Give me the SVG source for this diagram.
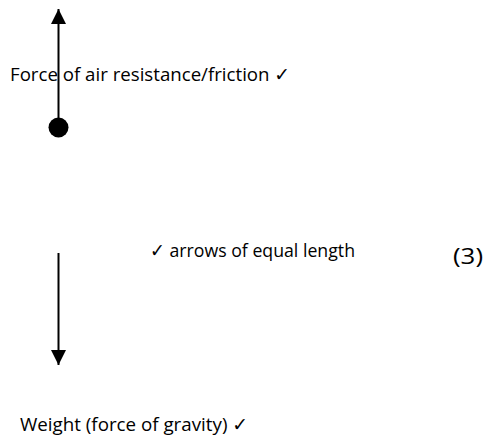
<svg xmlns="http://www.w3.org/2000/svg" width="486" height="438" viewBox="0 0 486 438">
<style>
.t{font-family:"Open Sans","DejaVu Sans",sans-serif;font-size:19px;fill:#000}
.ln{stroke:#000;stroke-width:2;fill:none}
</style>
<defs>
<marker id="ah" viewBox="0 0 16 15" refX="15" refY="7.5" markerWidth="16" markerHeight="15" markerUnits="userSpaceOnUse" orient="auto">
<path d="M0,0 L15,7.5 L0,15 Z" fill="#000"/>
</marker>
</defs>
<rect width="486" height="438" fill="#fff"/>
<g id="connectors">
<line class="ln" x1="58.5" y1="127" x2="58.5" y2="9" marker-end="url(#ah)"/>
<line class="ln" x1="58.5" y1="253" x2="58.5" y2="365" marker-end="url(#ah)"/>
</g>
<g id="object">
<circle cx="58.5" cy="127.5" r="10" fill="#000"/>
</g>
<g id="label-friction">
<text class="t" x="10" y="81" textLength="280" lengthAdjust="spacingAndGlyphs">Force of air resistance/friction ✓</text>
</g>
<g id="label-equal">
<text class="t" x="150" y="257" textLength="205" lengthAdjust="spacingAndGlyphs">✓ arrows of equal length</text>
</g>
<g id="label-marks">
<text class="t" x="453" y="264" style="font-size:22px" textLength="30" lengthAdjust="spacingAndGlyphs">(3)</text>
</g>
<g id="label-weight">
<text class="t" x="20" y="431" textLength="228" lengthAdjust="spacingAndGlyphs">Weight (force of gravity) ✓</text>
</g>
</svg>
